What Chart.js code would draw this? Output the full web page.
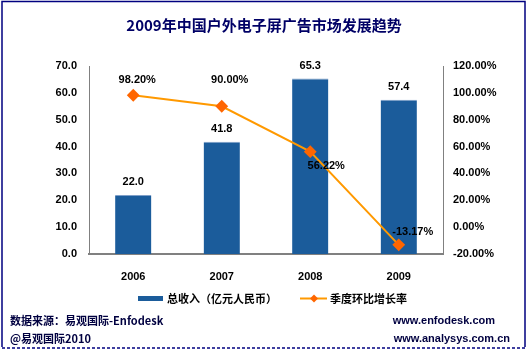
<!DOCTYPE html>
<html><head><meta charset="utf-8">
<script src="https://cdn.jsdelivr.net/npm/chart.js@4.4.1/dist/chart.umd.min.js"></script>
<style>html,body{margin:0;padding:0;background:#fff}#wrap{width:529px;height:352px;position:relative}</style>
</head><body><div id="wrap"><canvas id="c" width="529" height="352"></canvas></div>
<script>
const categories = ['2006','2007','2008','2009'];
const revenue = [22.0, 41.8, 65.3, 57.4];
const growth = [98.20, 90.00, 56.22, -13.17];
const revenueLabels = ['22.0','41.8','65.3','57.4'];
const growthLabels = ['98.20%','90.00%','56.22%','-13.17%'];
const titleText = '2009年中国户外电子屏广告市场发展趋势';
const legendBar = '总收入（亿元人民币）';
const legendLine = '季度环比增长率';
const footLeft1 = '数据来源：易观国际-Enfodesk';
const footLeft2 = '@易观国际2010';
const footRight1 = 'www.enfodesk.com';
const footRight2 = 'www.analysys.com.cn';

const tickFont = {family:'"Liberation Sans", Arial, sans-serif', size:11, weight:'bold'};
const cjkBold = '"Noto Sans CJK SC", sans-serif';

const deco = {
  id:'deco',
  afterDraw(chart){
    const ctx = chart.ctx;
    const xs = chart.scales.x, y = chart.scales.y, y1 = chart.scales.y1;
    ctx.save();
    // border
    ctx.strokeStyle = '#000080'; ctx.lineWidth = 1.5;
    ctx.beginPath(); ctx.moveTo(2,347); ctx.lineTo(2,1.5); ctx.lineTo(525,1.5); ctx.lineTo(525,347); ctx.stroke();
    ctx.setLineDash([3,2]); ctx.lineWidth=1.5;
    ctx.beginPath(); ctx.moveTo(2,348); ctx.lineTo(525,348); ctx.stroke();
    ctx.setLineDash([]);
    // title
    ctx.fillStyle = '#000066';
    ctx.font = 'bold 15px ' + cjkBold;
    ctx.textAlign='center'; ctx.textBaseline='middle';
    ctx.fillText(titleText, 264, 25);
    // bar labels
    ctx.fillStyle='#000'; ctx.font='bold 11px "Liberation Sans", Arial, sans-serif';
    revenue.forEach((v,i)=>{
      ctx.fillText(revenueLabels[i], xs.getPixelForValue(i), y.getPixelForValue(v)-13);
    });
    const offs = [[4,-15],[8,-26],[16,14],[14,-13]];
    growth.forEach((v,i)=>{
      ctx.fillText(growthLabels[i], xs.getPixelForValue(i)+offs[i][0], y1.getPixelForValue(v)+offs[i][1]);
    });
    // legend
    ctx.fillStyle='#1B5C9B'; ctx.fillRect(138,296,25,5);
    ctx.fillStyle='#000'; ctx.textAlign='left';
    ctx.font='bold 11px ' + cjkBold;
    ctx.fillText(legendBar, 167, 299);
    ctx.strokeStyle='#FF9900'; ctx.lineWidth=2;
    ctx.beginPath(); ctx.moveTo(300,298.5); ctx.lineTo(327,298.5); ctx.stroke();
    ctx.fillStyle='#FF6600';
    ctx.beginPath(); ctx.moveTo(314,294.5); ctx.lineTo(318,298.5); ctx.lineTo(314,302.5); ctx.lineTo(310,298.5); ctx.closePath(); ctx.fill();
    ctx.fillStyle='#000';
    ctx.fillText(legendLine, 330, 299);
    // footer
    ctx.fillStyle='#000040';
    ctx.fillText(footLeft1, 10, 321);
    ctx.fillText(footLeft2, 10, 339);
    ctx.font='bold 11px "Liberation Sans", Arial, sans-serif';
    ctx.textAlign='right';
    ctx.fillText(footRight1, 495, 321);
    ctx.fillText(footRight2, 510, 339);
    ctx.restore();
  }
};

new Chart(document.getElementById('c'), {
  data:{
    labels: categories,
    datasets:[
      {type:'line', label:legendLine, data:growth, yAxisID:'y1', borderColor:'#FF9900', borderWidth:2,
       pointStyle:'rectRot', pointRadius:5, pointBackgroundColor:'#FF6600', pointBorderColor:'#FF6600', tension:0, order:0},
      {type:'bar', label:legendBar, data:revenue, yAxisID:'y', backgroundColor:'#1B5C9B', borderColor:'#7F9FC8', borderWidth:{top:1,left:0,right:0,bottom:0},
       barPercentage:0.41, categoryPercentage:1.0, order:1}
    ]
  },
  options:{
    responsive:false, animation:false, devicePixelRatio:1,
    layout:{padding:{left:39, right:26, top:66, bottom:68}},
    plugins:{legend:{display:false}, title:{display:false}, tooltip:{enabled:false}},
    scales:{
      x:{grid:{display:false, drawTicks:true}, border:{color:'#808080', width:2},
         ticks:{color:'#000', font:tickFont, padding:8},
         afterFit(s){ s.height = 30; }},
      y:{position:'left', min:0, max:70, grid:{display:false, drawOnChartArea:false, drawTicks:true, tickLength:4, color:'#808080'},
         border:{color:'#808080'},
         ticks:{stepSize:10, color:'#000', font:tickFont, padding:8, callback:v=>v.toFixed(1)},
         afterFit(s){ s.width = 50; }},
      y1:{position:'right', min:-20, max:120, grid:{display:false, drawOnChartArea:false, drawTicks:true, tickLength:4, color:'#808080'},
         border:{color:'#808080'},
         ticks:{stepSize:20, color:'#000', font:tickFont, padding:6, callback:v=>v.toFixed(2)+'%'},
         afterFit(s){ s.width = 60; }}
    }
  },
  plugins:[deco]
});
</script></body></html>
